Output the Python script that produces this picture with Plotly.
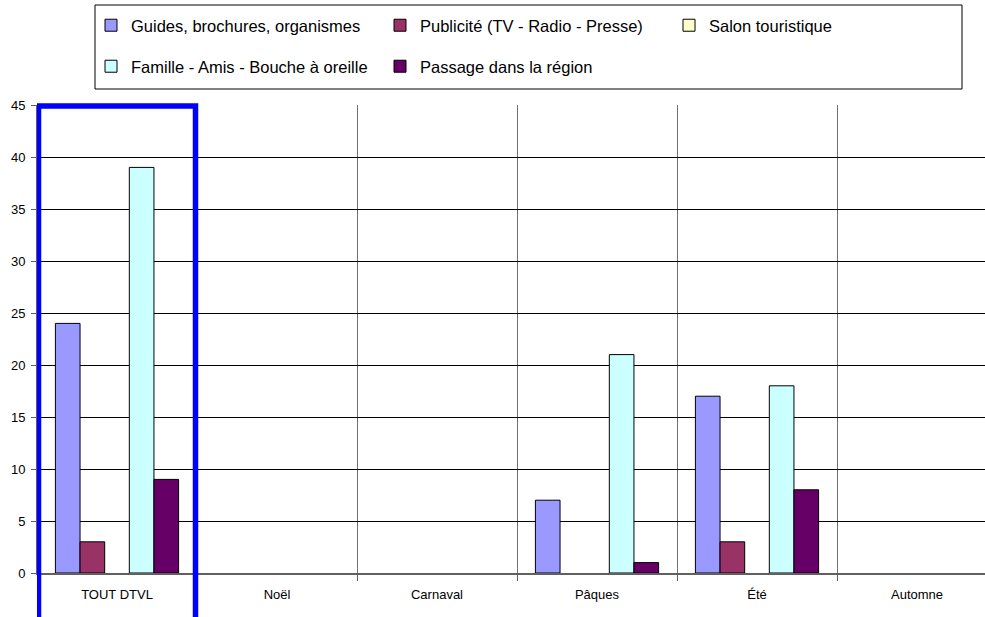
import plotly.graph_objects as go

categories = ["TOUT DTVL", "Noël", "Carnaval", "Pâques", "Été", "Automne"]
series_names = [
    "Guides, brochures, organismes",
    "Publicité (TV - Radio - Presse)",
    "Salon touristique",
    "Famille - Amis - Bouche à oreille",
    "Passage dans la région",
]
guides = [24, 0, 0, 7, 17, 0]
publicite = [3, 0, 0, 0, 3, 0]
salon = [0, 0, 0, 0, 0, 0]
famille = [39, 0, 0, 21, 18, 0]
passage = [9, 0, 0, 1, 8, 0]
colors = ["#9999FF", "#993366", "#FFFFCC", "#CCFFFF", "#660066"]
y_ticks = [0, 5, 10, 15, 20, 25, 30, 35, 40, 45]

values = [guides, publicite, salon, famille, passage]
legend_ids = ["legend", "legend", "legend", "legend2", "legend2"]

W, H = 985, 617
ML, MT, MB = 37, 105, 44
PW = W - ML
PH = H - MT - MB

fig = go.Figure()
for name, vals, col, lg in zip(series_names, values, colors, legend_ids):
    fig.add_trace(go.Bar(
        x=categories, y=[v if v else None for v in vals], name=name,
        marker=dict(color=col, line=dict(color="#000000", width=1)),
        legend=lg,
    ))

cat_px = 160.0
right_val = -0.5 + PW / cat_px

def px_x(p):
    return (p - ML) / PW

def px_y(p):
    return (H - MB - p) / PH

leg_common = dict(orientation="h", xanchor="left", yanchor="top",
                  entrywidth=244, entrywidthmode="pixels",
                  font=dict(size=16.5), bgcolor="rgba(0,0,0,0)", borderwidth=0,
                  traceorder="normal")

fig.update_layout(
    width=W, height=H, autosize=False,
    margin=dict(l=ML, r=0, t=MT, b=MB),
    paper_bgcolor="white", plot_bgcolor="white",
    barmode="group", bargap=0.23, bargroupgap=0,
    font=dict(family="Liberation Sans, Arial, sans-serif", size=13, color="#000000"),
    showlegend=True,
    legend=dict(x=px_x(91), y=px_y(8), **leg_common),
    legend2=dict(x=px_x(91), y=px_y(49), **leg_common),
    xaxis=dict(
        type="category", range=[-0.5, right_val],
        tickson="boundaries", ticks="outside", ticklen=6, tickcolor="#606060",
        showgrid=True, gridcolor="#707070", gridwidth=1,
        showline=True, linecolor="#606060", linewidth=2,
        tickfont=dict(size=13), zeroline=False, ticklabelstandoff=8,
    ),
    yaxis=dict(
        range=[0, 45], tickvals=y_ticks, ticks="outside", ticklen=5, tickcolor="#606060",
        showgrid=True, gridcolor="#000000", gridwidth=1,
        showline=True, linecolor="#606060", linewidth=1,
        zeroline=False, tickfont=dict(size=13), ticklabelstandoff=3,
    ),
    shapes=[
        dict(type="rect", xref="paper", yref="paper",
             x0=px_x(95), x1=px_x(962), y0=px_y(89), y1=px_y(5),
             line=dict(color="#000000", width=1), fillcolor="rgba(0,0,0,0)"),
        dict(type="rect", xref="x", yref="paper",
             x0=-0.5 + 1.5 / cat_px, x1=0.5 - 1.5 / cat_px,
             y0=px_y(625), y1=px_y(106),
             line=dict(color="#0000FF", width=5.5), fillcolor="rgba(0,0,0,0)"),
    ],
)

fig.write_html("out.html", config={"displayModeBar": False},
               post_script="document.body.style.margin='0';document.body.style.overflow='hidden';")
